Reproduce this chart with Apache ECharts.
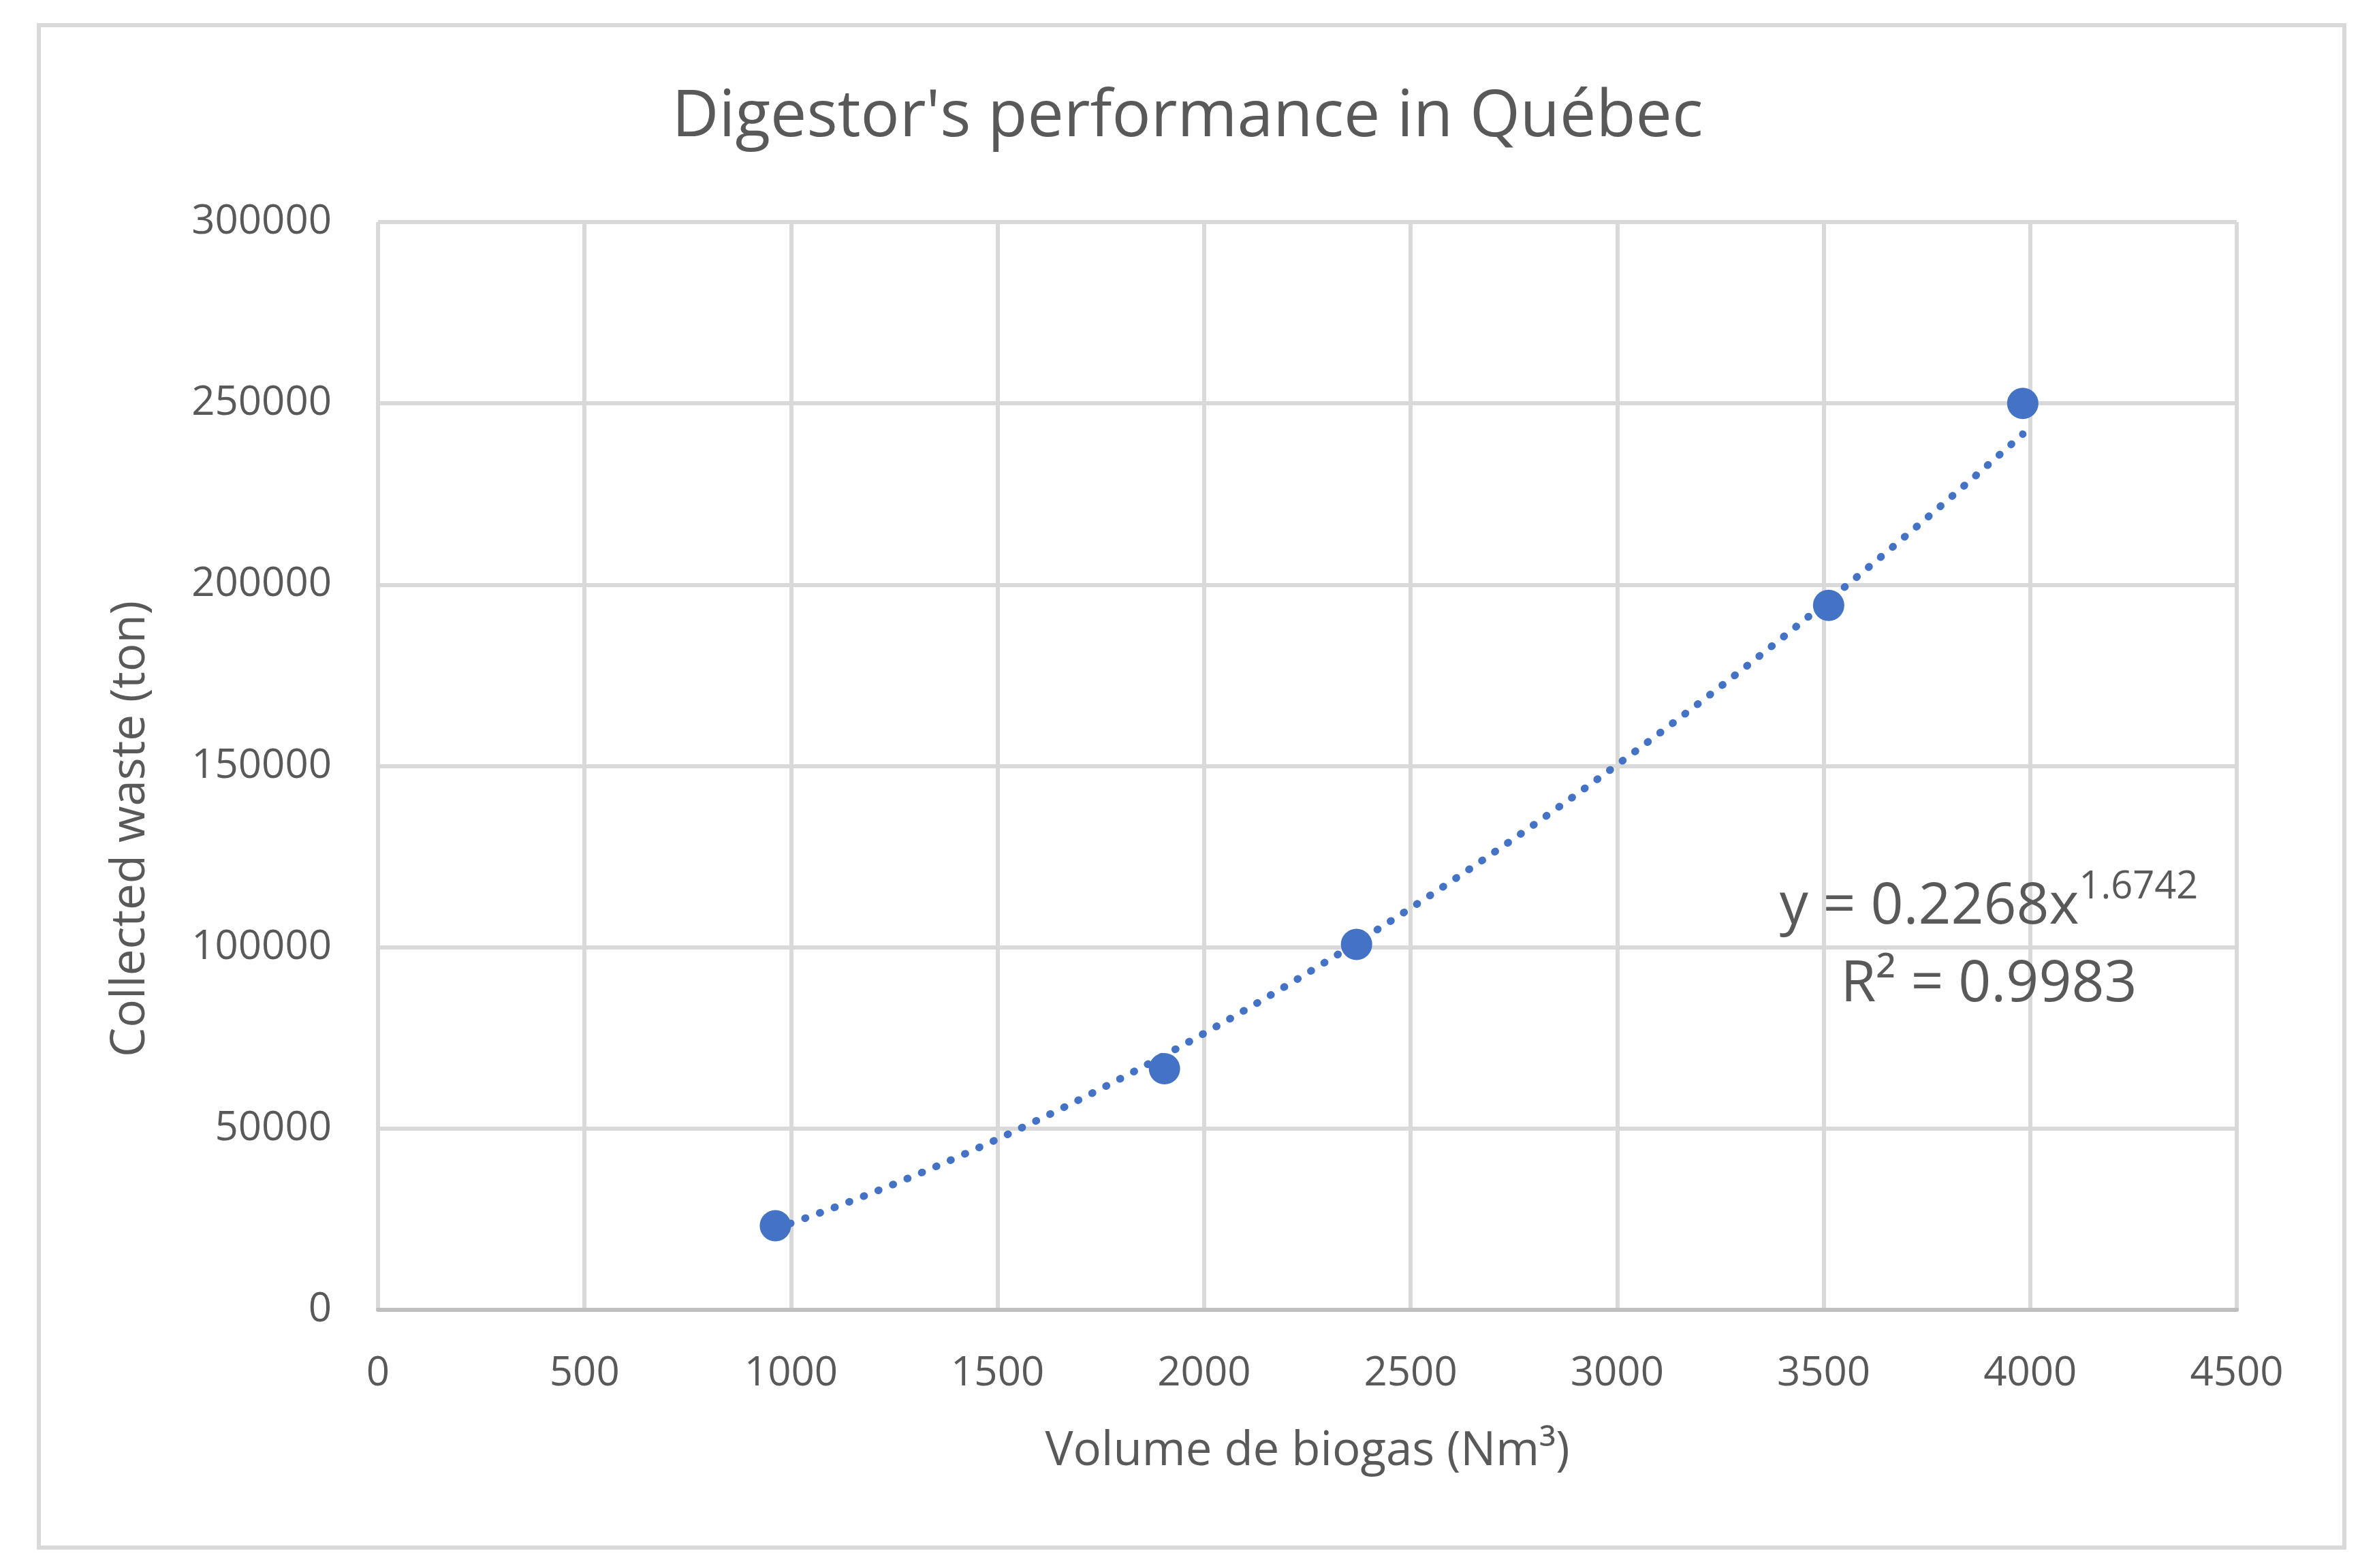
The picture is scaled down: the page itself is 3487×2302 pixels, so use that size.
<!DOCTYPE html>
<html>
<head>
<meta charset="utf-8">
<title>Digestor's performance in Québec</title>
<script src="https://cdn.jsdelivr.net/npm/echarts@6/dist/echarts.min.js"></script>
<style>
	body{margin:0;background:#fff;}
	#main{width:3487px;height:2302px;}
</style>
</head>
<body>
<div id="main"></div>
<script type="text/javascript">
// data
var biogas = [962, 1904, 2369, 3512, 3982];
var waste = [23200, 66500, 100800, 194300, 250000];
var xTicks = [0, 500, 1000, 1500, 2000, 2500, 3000, 3500, 4000, 4500];
var yTicks = [0, 50000, 100000, 150000, 200000, 250000, 300000];
// power trendline as printed on the chart
var trendA = 0.2268;
var trendB = 1.6742;
var trendR2 = 0.9983;

var points = [];
for (var i = 0; i < biogas.length; i++) points.push([biogas[i], waste[i]]);

// trendline spans the data range
var trend = [];
var x0 = Math.min.apply(null, biogas), x1 = Math.max.apply(null, biogas);
for (var k = 0; k <= 80; k++) {
	var x = x0 + (x1 - x0) * k / 80;
	trend.push([x, trendA * Math.pow(x, trendB)]);
}

var font = '"Open Sans", "Noto Sans", sans-serif';
var grey = '#595959';

function plain(v){ return String(v); }

var myChart = echarts.init(document.getElementById('main'));
var option = {
	backgroundColor: '#fff',
	animation: false,
	textStyle: {fontFamily: font, color: grey},
	title: {
		text: "Digestor's performance in Québec",
		left: 'center',
		top: 120,
		textStyle: {fontFamily: font, fontSize: 95, fontWeight: 'normal', color: grey}
	},
	grid: {left: 555, right: 203, top: 326, bottom: 379},
	xAxis: {
		type: 'value',
		min: xTicks[0], max: xTicks[xTicks.length - 1], interval: 500,
		name: 'Volume de biogas (Nm³)',
		nameLocation: 'middle',
		nameGap: 174,
		nameTextStyle: {fontFamily: font, fontSize: 69, color: grey},
		axisLine: {show: true, lineStyle: {color: '#bfbfbf', width: 6}},
		axisTick: {show: false},
		axisLabel: {fontFamily: font, fontSize: 60, color: grey, margin: 64, formatter: plain},
		splitLine: {show: true, lineStyle: {color: '#d9d9d9', width: 6}}
	},
	yAxis: {
		type: 'value',
		min: yTicks[0], max: yTicks[yTicks.length - 1], interval: 50000,
		axisLine: {show: false},
		axisTick: {show: false},
		axisLabel: {fontFamily: font, fontSize: 60, color: grey, margin: 68, formatter: plain},
		splitLine: {show: true, lineStyle: {color: '#d9d9d9', width: 6}}
	},
	graphic: [
		{
			type: 'rect',
			shape: {x: 57, y: 37, width: 3385, height: 2235},
			style: {fill: null, stroke: '#d9d9d9', lineWidth: 6},
			silent: true
		},
		{
			// y axis title, sits a bit below the plot middle as in the original
			type: 'text',
			x: 192, y: 1217,
			rotation: Math.PI / 2,
			style: {
				text: 'Collected waste (ton)',
				font: '69px ' + font,
				fill: grey,
				align: 'center',
				verticalAlign: 'middle'
			}
		},
		{
			type: 'text',
			x: 2920, y: 1275,
			z: 100,
			style: {
				text: '{m|y = ' + trendA + 'x}{s|' + trendB + '}\n{m|R² = ' + trendR2 + '}',
				align: 'center',
				verticalAlign: 'top',
				fill: grey,
				rich: {
					m: {fontFamily: font, fontSize: 84, fill: grey, lineHeight: 114},
					s: {fontFamily: font, fontSize: 56, fill: grey, lineHeight: 114, verticalAlign: 'top', padding: [0, 0, 24, 0]}
				}
			}
		}
	],
	series: [
		{
			name: 'data',
			type: 'scatter',
			data: points,
			symbol: 'circle',
			symbolSize: 46,
			itemStyle: {color: '#4472c4', opacity: 1}
		},
		{
			name: 'trend',
			type: 'line',
			data: trend,
			showSymbol: false,
			smooth: false,
			z: 3,
			lineStyle: {color: '#4472c4', width: 11, type: [1, 22], cap: 'round'}
		}
	]
};
myChart.setOption(option);
</script>
</body>
</html>
